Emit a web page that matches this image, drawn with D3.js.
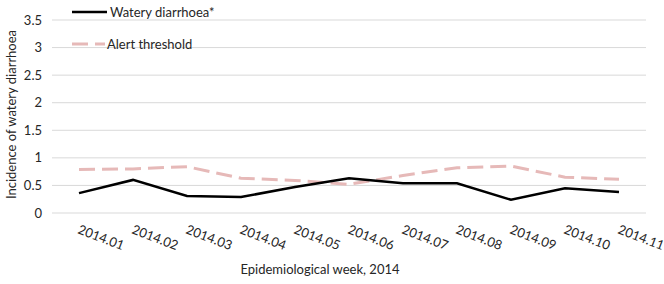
<!DOCTYPE html>
<meta charset="utf-8">
<style>
    body { margin: 0; background: #fff; }
    text { font-family: Lato, "Open Sans", sans-serif; fill: #262626; }
    .grid line { stroke: #d9d9d9; stroke-width: 1px; }
</style>
<svg width="664" height="284"></svg>
<script src="https://d3js.org/d3.v7.min.js"></script>
<script>

    var weeks = ["2014.01", "2014.02", "2014.03", "2014.04", "2014.05", "2014.06",
                 "2014.07", "2014.08", "2014.09", "2014.10", "2014.11"];
    var diarrhoea = [0.36, 0.6, 0.31, 0.29, 0.47, 0.63, 0.54, 0.54, 0.24, 0.45, 0.38];
    var threshold = [0.79, 0.8, 0.84, 0.63, 0.59, 0.52, 0.68, 0.82, 0.85, 0.65, 0.61];
    var yTicks = [0, 0.5, 1, 1.5, 2, 2.5, 3, 3.5];

    var svg = d3.select("svg"),
        margin = {top: 20, right: 18, bottom: 71, left: 52},
        width = +svg.attr("width") - margin.left - margin.right,
        height = +svg.attr("height") - margin.top - margin.bottom;

    var x = d3.scaleBand().domain(weeks).range([0, width]),
        y = d3.scaleLinear().domain([0, 3.5]).range([height, 0]);

    var g = svg.append("g")
        .attr("transform", "translate(" + margin.left + "," + margin.top + ")");

    // gridlines
    g.append("g")
        .attr("class", "grid")
        .selectAll("line")
        .data(yTicks)
        .enter().append("line")
        .attr("x1", 0)
        .attr("x2", width)
        .attr("y1", function(d) { return y(d); })
        .attr("y2", function(d) { return y(d); });

    // y tick labels
    g.append("g")
        .selectAll("text")
        .data(yTicks)
        .enter().append("text")
        .attr("x", -10)
        .attr("y", function(d) { return y(d); })
        .attr("dy", "0.35em")
        .attr("text-anchor", "end")
        .style("font-size", "13px")
        .text(function(d) { return d; });

    // x tick labels, rotated
    g.append("g")
        .selectAll("text")
        .data(weeks)
        .enter().append("text")
        .attr("transform", function(d) {
            return "translate(" + (x(d) + x.bandwidth() / 2 - 2) + "," + (height + 20) + ") rotate(21)";
        })
        .style("font-size", "13px")
        .text(function(d) { return d; });

    var line = d3.line()
        .x(function(d, i) { return x(weeks[i]) + x.bandwidth() / 2; })
        .y(function(d) { return y(d); });

    g.append("path")
        .datum(threshold)
        .attr("fill", "none")
        .attr("stroke", "#e6b9b8")
        .attr("stroke-width", 3)
        .attr("stroke-dasharray", "16,7")
        .attr("d", line);

    g.append("path")
        .datum(diarrhoea)
        .attr("fill", "none")
        .attr("stroke", "#000")
        .attr("stroke-width", 2.5)
        .attr("d", line);

    // legend
    var legend = svg.append("g");
    legend.append("line")
        .attr("x1", 72).attr("x2", 107).attr("y1", 12).attr("y2", 12)
        .attr("stroke", "#000").attr("stroke-width", 2.5);
    legend.append("text")
        .attr("x", 110).attr("y", 12).attr("dy", "0.35em")
        .style("font-size", "13px")
        .text("Watery diarrhoea*");
    legend.append("line")
        .attr("x1", 72).attr("x2", 105).attr("y1", 44).attr("y2", 44)
        .attr("stroke", "#e6b9b8").attr("stroke-width", 3)
        .attr("stroke-dasharray", "16,7");
    legend.append("text")
        .attr("x", 107).attr("y", 44).attr("dy", "0.35em")
        .style("font-size", "13px")
        .text("Alert threshold");

    // axis titles
    svg.append("text")
        .attr("transform", "translate(16," + (margin.top + height / 2 - 2) + ") rotate(-90)")
        .attr("text-anchor", "middle")
        .style("font-size", "13px")
        .text("Incidence of watery diarrhoea");

    svg.append("text")
        .attr("x", 320)
        .attr("y", 274)
        .attr("text-anchor", "middle")
        .style("font-size", "13px")
        .text("Epidemiological week, 2014");

</script>
